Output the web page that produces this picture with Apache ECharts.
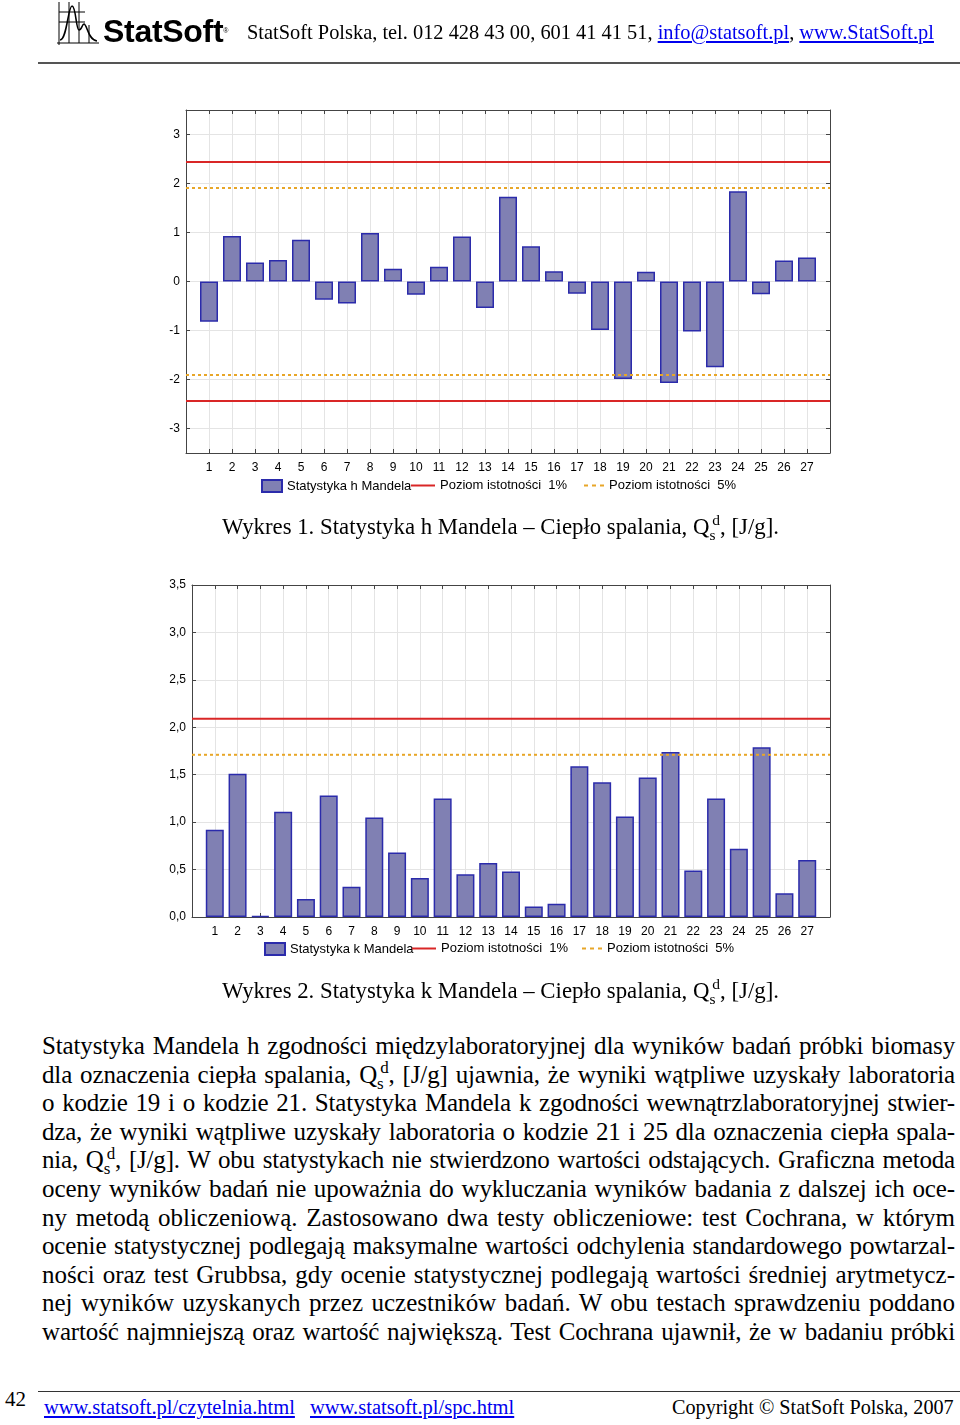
<!DOCTYPE html>
<html><head><meta charset="utf-8">
<script src="https://cdn.jsdelivr.net/npm/echarts@6/dist/echarts.min.js"></script>
<style>
html,body{margin:0;padding:0;background:#fff;}
body{width:960px;height:1425px;position:relative;overflow:hidden;font-family:"Liberation Serif","Times New Roman",serif;color:#000;}
#chart{position:absolute;left:0;top:0;width:960px;height:1000px;}
.abs{position:absolute;white-space:nowrap;}
a{color:#0000ee;text-decoration:underline;}
sub,sup{line-height:0;font-size:0.68em;}
.para{position:absolute;left:42px;top:1032px;width:913px;font-size:25px;line-height:28.6px;}
.para div{text-align:justify;text-align-last:justify;white-space:nowrap;height:28.6px;}
.cap{font-size:22.8px;line-height:26px;}
</style>
</head><body>
<div id="chart"></div>

<svg class="abs" style="left:55px;top:0px" width="46" height="48" viewBox="0 0 46 48">
  <g stroke="#000" stroke-width="1" fill="none">
    <line x1="4" y1="2" x2="4" y2="45"/>
    <line x1="2" y1="43" x2="44" y2="43"/>
    <line x1="4" y1="12" x2="30" y2="12"/>
    <line x1="4" y1="22" x2="30" y2="22"/>
    <line x1="14" y1="2" x2="14" y2="43"/>
    <line x1="24" y1="2" x2="24" y2="43"/>
    <line x1="34" y1="25" x2="34" y2="43"/>
    <path d="M5,40 C12,40 13,6 17,6 C21,6 21,30 24,30 C27,30 27,24 29,24 C32,24 33,40 42,41" stroke-width="1.6"/>
  </g>
</svg>
<div class="abs" style="left:103px;top:14px;font-family:'Liberation Sans',Arial,sans-serif;font-weight:bold;font-size:32px;line-height:34px;letter-spacing:-0.3px">StatSoft<span style="font-size:7px;vertical-align:top;font-weight:normal">®</span></div>
<div class="abs" style="left:247px;top:20px;font-size:20.4px;line-height:24px">StatSoft Polska, tel. 012 428 43 00, 601 41 41 51, <a>info@statsoft.pl</a>, <a>www.StatSoft.pl</a></div>
<div class="abs" style="left:38px;top:62px;width:922px;height:2px;background:#555"></div>

<div class="abs cap" style="left:222px;top:514px">Wykres 1. Statystyka h Mandela – Ciepło spalania, Q<sub>s</sub><sup style="margin-left:-0.2em">d</sup>, [J/g].</div>
<div class="abs cap" style="left:222px;top:978px">Wykres 2. Statystyka k Mandela – Ciepło spalania, Q<sub>s</sub><sup style="margin-left:-0.2em">d</sup>, [J/g].</div>

<div class="para" id="para">
<div>Statystyka Mandela h zgodności międzylaboratoryjnej dla wyników badań próbki biomasy</div>
<div>dla oznaczenia ciepła spalania, Q<sub>s</sub><sup style="margin-left:-0.2em">d</sup>, [J/g] ujawnia, że wyniki wątpliwe uzyskały laboratoria</div>
<div>o kodzie 19 i o kodzie 21. Statystyka Mandela k zgodności wewnątrzlaboratoryjnej stwier-</div>
<div>dza, że wyniki wątpliwe uzyskały laboratoria o kodzie 21 i 25 dla oznaczenia ciepła spala-</div>
<div>nia, Q<sub>s</sub><sup style="margin-left:-0.2em">d</sup>, [J/g]. W obu statystykach nie stwierdzono wartości odstających. Graficzna metoda</div>
<div>oceny wyników badań nie upoważnia do wykluczania wyników badania z dalszej ich oce-</div>
<div>ny metodą obliczeniową. Zastosowano dwa testy obliczeniowe: test Cochrana, w którym</div>
<div>ocenie statystycznej podlegają maksymalne wartości odchylenia standardowego powtarzal-</div>
<div>ności oraz test Grubbsa, gdy ocenie statystycznej podlegają wartości średniej arytmetycz-</div>
<div>nej wyników uzyskanych przez uczestników badań. W obu testach sprawdzeniu poddano</div>
<div>wartość najmniejszą oraz wartość największą. Test Cochrana ujawnił, że w badaniu próbki</div>
</div>

<div class="abs" style="left:38px;top:1391px;width:922px;height:1px;background:#333"></div>
<div class="abs" style="left:5px;top:1387px;font-size:21px;line-height:24px">42</div>
<div class="abs" style="left:44px;top:1395px;font-size:20.5px;line-height:24px"><a>www.statsoft.pl/czytelnia.html</a></div>
<div class="abs" style="left:310px;top:1395px;font-size:20.5px;line-height:24px"><a>www.statsoft.pl/spc.html</a></div>
<div class="abs" style="left:672px;top:1395px;font-size:20.2px;line-height:24px">Copyright © StatSoft Polska, 2007</div>

<script>
// fit paragraph lines whose natural width (plus a minimal gap) exceeds the column
(function(){
  const lines = document.querySelectorAll('#para div');
  lines.forEach(function(el){
    const words = el.textContent.trim().split(/\s+/).length;
    const probe = document.createElement('span');
    probe.style.whiteSpace = 'nowrap';
    probe.innerHTML = el.innerHTML;
    el.style.textAlignLast = 'left';
    el.innerHTML = '';
    el.appendChild(probe);
    let ls = 0;
    const limit = 913 - (words - 1) * 1.5;
    while (probe.getBoundingClientRect().width > limit && ls > -1.2) {
      ls -= 0.05;
      probe.style.letterSpacing = ls.toFixed(2) + 'px';
    }
    el.innerHTML = probe.innerHTML;
    el.style.letterSpacing = ls.toFixed(2) + 'px';
    el.style.textAlignLast = 'justify';
  });
})();

// ---- data ----
const labs = [1,2,3,4,5,6,7,8,9,10,11,12,13,14,15,16,17,18,19,20,21,22,23,24,25,26,27];
const hValues = [-0.82,0.93,0.39,0.44,0.85,-0.37,-0.45,0.99,0.26,-0.27,0.30,0.92,-0.54,1.73,0.72,0.21,-0.25,-0.99,-1.99,0.20,-2.07,-1.02,-1.75,1.84,-0.26,0.43,0.49];
const kValues = [0.92,1.51,0.01,1.11,0.19,1.28,0.32,1.05,0.68,0.41,1.25,0.45,0.57,0.48,0.11,0.14,1.59,1.42,1.06,1.47,1.74,0.49,1.25,0.72,1.79,0.25,0.60];
const hLimit1 = 2.44;
const hLimit5 = 1.91;
const kLimit1 = 2.09;
const kLimit5 = 1.71;
const hTicks = [-3,-2,-1,0,1,2,3];
const kTicks = [0,0.5,1,1.5,2,2.5,3,3.5];
const hName = 'Statystyka h Mandela';
const kName = 'Statystyka k Mandela';
const l1Name = 'Poziom istotności  1%';
const l5Name = 'Poziom istotności  5%';

// ---- styles ----
const font = "'Liberation Sans', Arial, sans-serif";
const axisCol = '#444';
const gridCol = '#e4e4e4';
const barStyle = {color:'#8080b3', borderColor:'#2b2bab', borderWidth:1.5};
const red = {color:'#d92626', width:2};
const orange = {color:'#e8a628', width:2, type:[3,3]};
const dashIcon = 'path://M0,0h4v2h-4zM8,0h4v2h-4zM16,0h4v2h-4z';

function xAxes(gi){
  return [
    {gridIndex:gi, type:'value', min:0, max:28, interval:1, position:'bottom',
     axisLine:{show:true, onZero:false, lineStyle:{color:axisCol}},
     axisTick:{show:true, inside:true, length:4, lineStyle:{color:axisCol}},
     axisLabel:{showMinLabel:false, showMaxLabel:false, margin:9, fontSize:12, color:'#000', fontFamily:font},
     splitLine:{show:true, lineStyle:{color:gridCol, width:1}}},
    {gridIndex:gi, type:'value', min:0, max:28, interval:1, position:'top',
     axisLine:{show:true, onZero:false, lineStyle:{color:axisCol}},
     axisTick:{show:true, inside:true, length:4, lineStyle:{color:axisCol}},
     axisLabel:{show:false}, splitLine:{show:false}}
  ];
}
function yAxes(gi, mn, mx, ticks, fmt){
  return [
    {gridIndex:gi, type:'value', min:mn, max:mx, position:'left',
     axisLine:{show:true, onZero:false, lineStyle:{color:axisCol}},
     axisTick:{show:true, inside:true, length:4, customValues:ticks, lineStyle:{color:axisCol}},
     axisLabel:{customValues:ticks, formatter:fmt, margin:6, fontSize:12, color:'#000', fontFamily:font},
     splitLine:{show:true, lineStyle:{color:gridCol, width:1}}},
    {gridIndex:gi, type:'value', min:mn, max:mx, position:'right',
     axisLine:{show:true, onZero:false, lineStyle:{color:axisCol}},
     axisTick:{show:true, inside:true, length:4, customValues:ticks, lineStyle:{color:axisCol}},
     axisLabel:{show:false}, splitLine:{show:false}}
  ];
}
function hline(name, xi, yi, v, style){
  return {name:name, type:'line', xAxisIndex:xi, yAxisIndex:yi, symbol:'none', silent:true,
    data:[[0,v],[28,v]], lineStyle:style, itemStyle:{color:style.color}, z:5};
}
function legend(name, left, top, icon, w, h){
  return {data:[{name:name, icon:icon}], left:left, top:top, padding:0, itemWidth:w, itemHeight:h, selectedMode:false,
    itemStyle:{borderWidth:0}, lineStyle:{width:0},
    textStyle:{fontSize:13, color:'#000', fontFamily:font}};
}
function barLegend(name, left, top){
  return {data:[{name:name, icon:'rect'}], left:left, top:top, padding:0, itemWidth:20, itemHeight:12, selectedMode:false,
    textStyle:{fontSize:13, color:'#000', fontFamily:font}};
}

const chart = echarts.init(document.getElementById('chart'), null, {renderer:'canvas'});
chart.setOption({
  animation:false,
  grid:[
    {left:186, top:110, width:644, height:343},
    {left:192, top:585, width:638, height:332}
  ],
  xAxis: xAxes(0).concat(xAxes(1)),
  yAxis: yAxes(0,-3.5,3.5,hTicks,v=>String(v)).concat(yAxes(1,0,3.5,kTicks,v=>v.toFixed(1).replace('.',','))),
  legend:[
    barLegend(hName, 261, 479),
    legend(l1Name, 411, 479, 'rect', 24, 2),
    legend(l5Name, 584, 479, dashIcon, 20, 2),
    barLegend(kName, 264, 942),
    legend(l1Name, 412, 942, 'rect', 24, 2),
    legend(l5Name, 582, 942, dashIcon, 20, 2)
  ],
  series:[
    {name:hName, type:'bar', xAxisIndex:0, yAxisIndex:0, barWidth:18, itemStyle:barStyle,
     data: labs.map((c,i)=>[c,hValues[i]])},
    hline(l1Name,0,0,hLimit1,red), hline(l1Name,0,0,-hLimit1,red),
    hline(l5Name,0,0,hLimit5,orange), hline(l5Name,0,0,-hLimit5,orange),
    {name:kName, type:'bar', xAxisIndex:2, yAxisIndex:2, barWidth:18, itemStyle:barStyle,
     data: labs.map((c,i)=>[c,kValues[i]])},
    hline(l1Name,2,2,kLimit1,red),
    hline(l5Name,2,2,kLimit5,orange)
  ]
});
</script>
</body></html>
